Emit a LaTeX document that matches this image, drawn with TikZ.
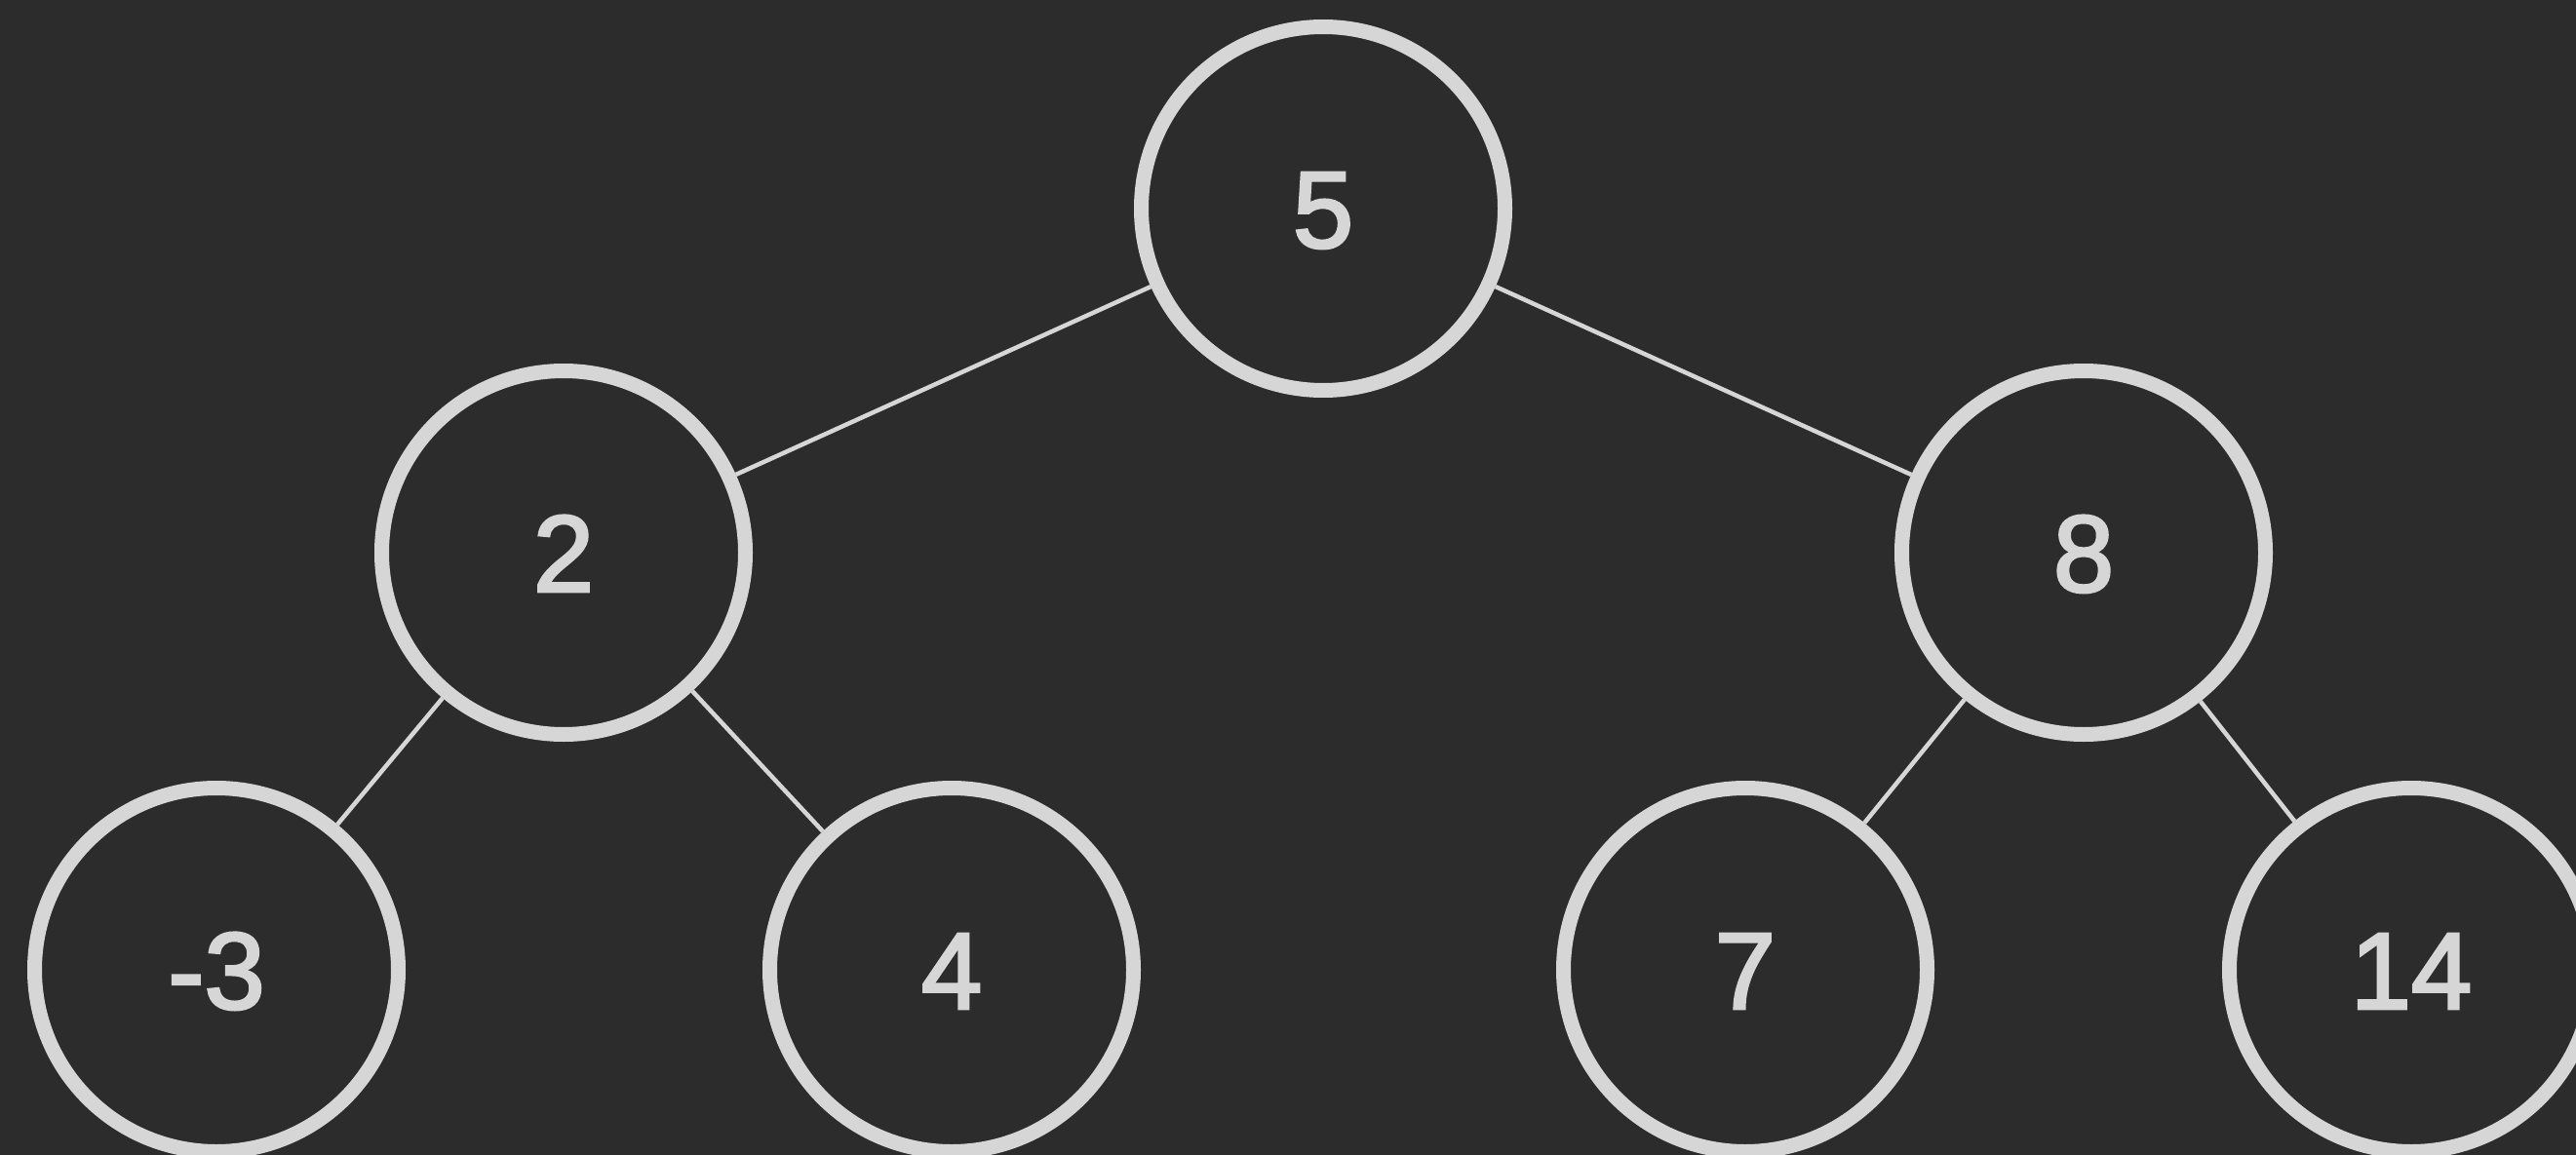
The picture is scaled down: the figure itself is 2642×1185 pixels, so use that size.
\documentclass[tikz,border=0pt]{standalone}
\usepackage{fontspec}
\setmainfont{Liberation Sans}
\newfontfamily\nodefont[RawFeature={embolden=2.5}]{Liberation Sans}
\definecolor{bg}{HTML}{2C2C2C}
\definecolor{fg}{HTML}{D6D6D6}
\begin{document}
\begin{tikzpicture}[x=1pt,y=-1pt,
  treenode/.style={circle, draw=fg, line width=15pt, minimum size=373pt, inner sep=0pt,
    text=fg, font=\nodefont\fontsize{112}{112}\selectfont, text height=80pt, text depth=0pt},
  treeedge/.style={draw=fg, line width=4.5pt}]
\useasboundingbox (0,0) rectangle (2642,1185);
\fill[bg] (0,0) rectangle (2642,1185);
\clip (0,0) rectangle (2642,1185);
\node[treenode] (n5) at (1357,214) {5};
\node[treenode] (n2) at (578,567) {2};
\node[treenode] (n8) at (2137,567) {8};
\node[treenode] (nm3) at (222,995) {-3};
\node[treenode] (n4) at (976,995) {4};
\node[treenode] (n7) at (1790,995) {7};
\node[treenode] (n14) at (2473,995) {14};
\draw[treeedge] (n5) -- (n2);
\draw[treeedge] (n5) -- (n8);
\draw[treeedge] (n2) -- (nm3);
\draw[treeedge] (n2) -- (n4);
\draw[treeedge] (n8) -- (n7);
\draw[treeedge] (n8) -- (n14);
\end{tikzpicture}
\end{document}
